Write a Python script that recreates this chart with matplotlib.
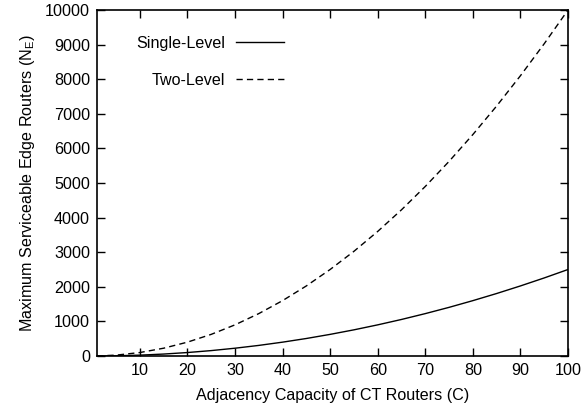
import matplotlib
matplotlib.use("Agg")
import matplotlib.pyplot as plt

plt.rcParams['font.family'] = ['Liberation Sans', 'DejaVu Sans']
plt.rcParams['mathtext.default'] = 'regular'

# Data
capacity = [1, 5, 10, 15, 20, 25, 30, 35, 40, 45, 50, 55, 60, 65, 70, 75, 80, 85, 90, 95, 100]
single_level = [0, 6, 25, 56, 100, 156, 225, 306, 400, 506, 625, 756, 900, 1056, 1225,
                1406, 1600, 1806, 2025, 2256, 2500]
two_level = [1, 25, 100, 225, 400, 625, 900, 1225, 1600, 2025, 2500, 3025, 3600, 4225,
             4900, 5625, 6400, 7225, 8100, 9025, 10000]
x_ticks = [10, 20, 30, 40, 50, 60, 70, 80, 90, 100]
y_ticks = [0, 1000, 2000, 3000, 4000, 5000, 6000, 7000, 8000, 9000, 10000]

FS = 11.6

fig = plt.figure(figsize=(5.83, 4.11), dpi=100)
ax = fig.add_axes([97/583, 55/411, (568-97)/583, (356-10)/411])

ax.plot(capacity, single_level, color='black', lw=1.0, label='Single-Level')
ax.plot(capacity, two_level, color='black', lw=1.0, dashes=(4.5, 3), label='Two-Level')

ax.set_xlim(1, 100)
ax.set_ylim(0, 10000)
ax.set_xticks(x_ticks)
ax.set_yticks(y_ticks)
ax.tick_params(direction='in', length=6, width=1, top=True, right=True, labelsize=FS,
               pad=5)
for s in ax.spines.values():
    s.set_linewidth(1.2)

ax.set_xlabel('Adjacency Capacity of CT Routers (C)', fontsize=FS, labelpad=7)
ax.set_ylabel('Maximum Serviceable Edge Routers (N$_E$)', fontsize=FS, labelpad=6)

leg = ax.legend(loc='upper right', bbox_to_anchor=(0.397, 0.926), frameon=False,
                markerfirst=False, fontsize=FS, handlelength=2.95, handletextpad=0.7,
                labelspacing=1.36, borderpad=0, borderaxespad=0)

fig.savefig('out.png', dpi=100)
